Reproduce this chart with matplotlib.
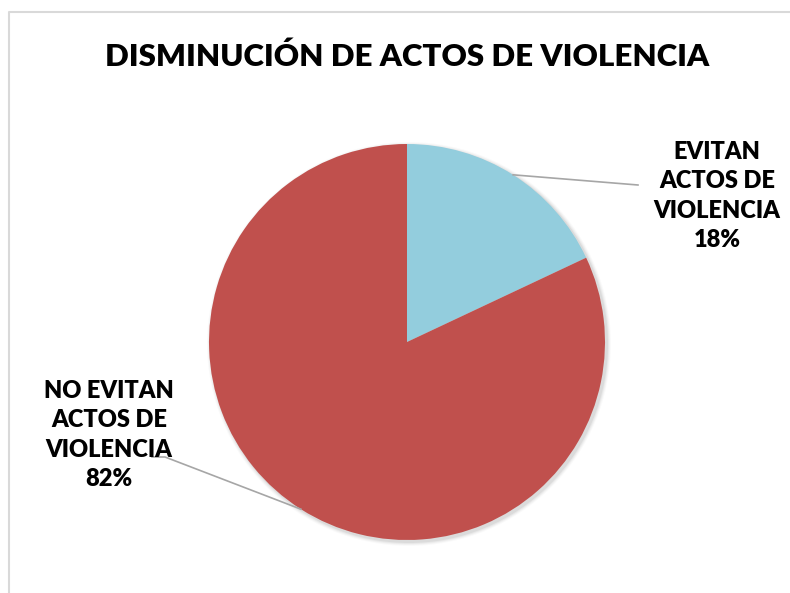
import numpy as np
import matplotlib.pyplot as plt

# data
labels = ['EVITAN\nACTOS DE\nVIOLENCIA', 'NO EVITAN\nACTOS DE\nVIOLENCIA']
values = [18, 82]
colors = ['#93CDDD', '#C0504D']
title = 'DISMINUCIÓN DE ACTOS DE VIOLENCIA'

plt.rcParams['font.family'] = ['Lato', 'DejaVu Sans']

W, H = 790, 593
fig = plt.figure(figsize=(W / 100, H / 100), dpi=100)
ax = fig.add_axes([0, 0, 1, 1])
ax.set_aspect('equal')

cx, cy, R = 407, H - 342, 198

# chart border (only left and top visible)
ax.plot([9, 9, W], [0, H - 12, H - 12], color='#D9D9D9', lw=1.5, solid_capstyle='butt')

# soft shadow under the pie
for i, a in enumerate([0.05, 0.04, 0.03, 0.02]):
    ax.add_patch(plt.Circle((cx + 2, cy - 2), R + 1 + i, color='black', alpha=a, lw=0))

wedges, _ = ax.pie(values, colors=colors, startangle=90, counterclock=False,
                   center=(cx, cy), radius=R, frame=True,
                   wedgeprops=dict(linewidth=0))
ax.set_xlim(0, W)
ax.set_ylim(0, H)
ax.axis('off')

# labels with leader lines
text_pos = [(717, H - 196), (109, H - 435)]
line_end = [[(638, H - 185)], [(165, H - 457), (152, H - 457)]]
total = sum(values)
for w, lab, v, tp, ends in zip(wedges, labels, values, text_pos, line_end):
    ang = np.deg2rad((w.theta1 + w.theta2) / 2)
    px, py = cx + R * np.cos(ang), cy + R * np.sin(ang)
    xs = [px] + [e[0] for e in ends]
    ys = [py] + [e[1] for e in ends]
    ax.plot(xs, ys, color='#A6A6A6', lw=1.2)
    ax.text(tp[0], tp[1], f'{lab}\n{v / total:.0%}', ha='center', va='center',
            fontsize=17, fontweight='heavy', linespacing=1.42)

ax.text(407, H - 57, title, ha='center', va='center', fontsize=22.5, fontweight='heavy')

fig.savefig('out.png', dpi=100)
